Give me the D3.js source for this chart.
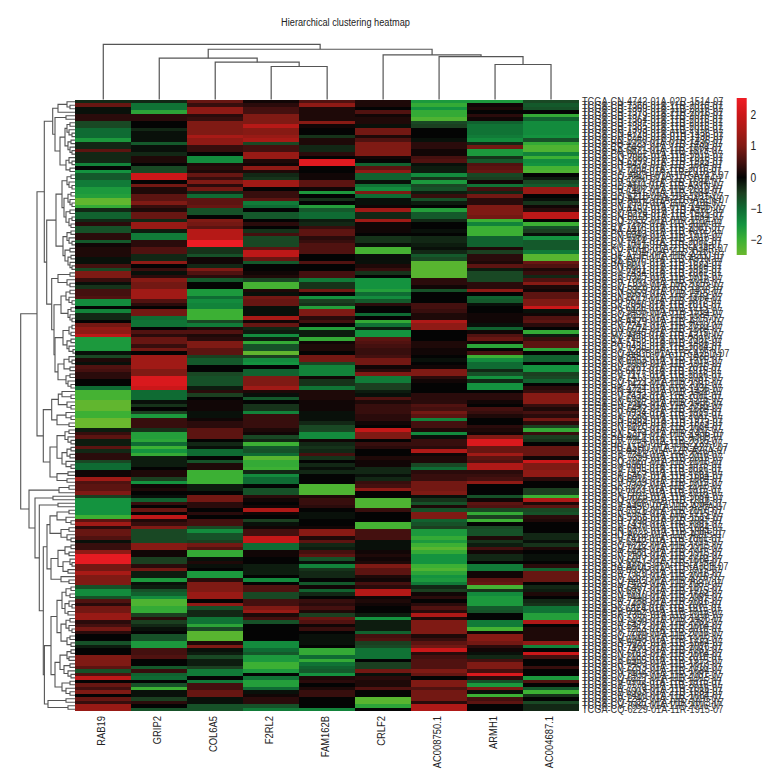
<!DOCTYPE html>
<html>
<head>
<meta charset="utf-8">
<script src="https://cdn.jsdelivr.net/npm/d3@7"></script>
<style>
  body { margin: 0; background: #fff; }
  text { font-family: "Liberation Sans", sans-serif; fill: #222; }
</style>
</head>
<body>
<div class="heatmap"></div>
<script>
const genes = ["RAB19", "GRIP2", "COL6A5", "F2RL2", "FAM162B", "CRLF2", "AC008750.1", "ARMH1", "AC004687.1"];

const rab19 = [-.3,.8,-.1,-.1,.3,.3,-.6,-.6,-1,-1,
  -1,-1.6,-.3,-.3,.7,-.3,-.3,-.3,-1.3,0,
  -1.5,-.8,-.8,-1.2,-1.2,-1.6,-1.6,-1.7,-2.4,-2.4,
  -1.9,-.3,-.9,-.9,-.3,.3,-.7,-.7,.3,.3,
  -.8,.1,.2,.2,.2,-.1,-.1,.5,-.6,1,
  1,.4,-.1,-.4,.5,.5,.6,-1.4,-1.4,0,
  -1.3,-.3,-.3,0,.9,1.2,1.2,1.8,-1.6,-1.6,
  -1.6,-1.6,-.1,-.6,.2,-.1,.6,.5,.3,.3,
  0,0,-1,-2.1,-2.1,-2.1,-2.4,-2.4,-2.4,-2,
  -2,-2.5,-2.5,-2.5,-.2,.4,.7,-.2,-.2,.7,
  -.3,.3,.3,-.6,-1,-1,.1,.1,1.4,.6,
  .7,.7,1,-.5,-1.5,-1.5,-1.5,-1.5,-1.5,-2,
  .7,1.4,.3,.8,.8,.6,-.1,.4,.4,1.2,
  2.4,2.4,2.4,.9,.9,1.5,1,1,1,-.7,
  -1.4,-1.4,-.7,.6,.3,.9,.9,1.3,1.3,.3,
  .5,.9,.3,0,0,-.7,-.2,0,0,1,
  1,1,.7,-.7,.6,1.8,0,.8,.5,1,
  0,.8,.4,1.3,1.3];
const grip2 = [-.3,-1.1,-1.1,-1.8,.3,.3,0,0,-.3,-.1,
  -.1,-.1,-.8,-.1,-.1,-.3,.2,.2,0,-.6,
  -.6,2,2,0,.9,.2,.2,.7,.7,1,
  .4,.2,.8,.8,-.3,1.3,1.3,-.2,-1.2,-1.2,
  .3,.3,.6,.6,-.3,-.3,1.2,0,.4,-.1,
  .3,1.1,.9,.9,1.4,1.4,1.4,.6,.3,0,
  .9,.9,-1,-1.1,-1.1,0,.6,.3,.8,.8,
  .4,.9,0,1.4,1.4,1.4,1.4,1,1,2.2,
  2.2,2.2,2,-1,-1,-1,-.1,-.4,0,-.5,
  -1.6,.4,.4,.4,-.4,-1.7,-1.7,-1.8,-1,-2,
  -1.5,-1.9,-.2,-.2,-.2,0,.2,.2,-.5,-1.5,
  .1,.2,0,-.1,-.9,.4,0,.8,0,1.8,
  .2,.4,1,-.6,-.6,-.6,-.6,1.1,1.1,.1,
  .1,-.5,-.5,.3,.9,-.2,-.2,-1.6,-.1,-.2,
  -.7,-.9,-1.4,-2.2,-2.2,-1.9,-1.9,-.5,.3,-.5,
  -.3,-.1,0,-.7,-.7,-1.6,-1.6,.5,.5,.6,
  0,0,-.8,.4,-.9,-1,0,-.7,-2,-.1,
  -.1,-.5,.3,0,-.7];
const col6a5 = [.8,.4,1.2,1.2,.3,.4,1,1,1,1,
  1.5,1.2,1.2,.4,.4,0,-1.4,-1.4,.2,.3,
  .2,.8,.4,1,.3,.9,-.3,-1,.7,.7,
  .8,-.7,-.7,0,1,.9,.7,1.7,1.7,1.7,
  2.5,2.5,-.4,-.4,-.7,.1,.1,-.3,1,.6,
  .3,-.8,0,0,-1.6,-1.6,-1,-1.4,-1.3,-1.3,
  -2,-2,-2,-.6,-1.2,.2,.6,.2,.3,1,
  1,.7,.7,-.5,-.8,-.8,0,0,-.6,-.7,
  -.7,-.7,-.2,.3,-.5,0,.1,.1,.1,-.1,
  -.1,.1,.3,.3,.7,.7,.7,0,-.3,-.1,
  -1,-1,0,-.7,.2,.2,-2,-2,-2,-2,
  -.2,-.2,0,.9,.9,.3,.3,0,.3,0,
  .5,.5,-.6,-1.4,-.7,-.7,-.5,.9,.6,-1.9,
  -1.9,-.1,.2,-.1,0,-1.6,-1.6,.3,1,1,
  1,1.3,1.3,0,1.2,-.7,-.3,-.3,-1.1,-1.1,
  -1.8,-.6,-2.3,-2.3,-2.3,.2,1,-.1,-.2,-.6,
  -.2,-.2,-.5,-1.2,-1.2,0,-1.2,.5,.5,.8,
  .8,-.1,-.1,-.7,-.7];
const f2rl2 = [.1,.3,.5,.5,1,1,1,1.7,1.1,1.1,
  1.3,1.5,-.6,.5,.5,1.3,1.3,.2,.1,1.2,
  .2,-.3,-.4,1.4,1.4,0,.4,.4,.7,-1.2,
  -1,0,-.8,-.8,0,.3,0,-.4,.5,-.6,
  -.6,-.6,.7,1.8,1.8,.8,-.8,0,0,.1,
  .2,-.6,-2.1,-2.1,.2,-.1,.9,.8,.8,-.1,
  -.1,-.1,1.5,.1,.8,-.3,-.2,-1.4,-.2,-1.9,
  -.7,-.7,-2.4,-.5,-1.4,-1.5,0,-.9,-.9,1,
  1,1,1.4,.2,-.1,-.8,0,-.4,-.4,-1.3,
  .4,.4,.4,.4,.2,.1,-.6,-.3,-2,-.8,
  -.7,-1,-2.3,-1.9,-1.9,-2,-.3,-1.4,-1,-1,
  0,-.7,-.7,.3,.1,0,.1,1.6,.1,0,
  -.5,-.1,.1,.5,.5,1.9,1.9,-1,-1,.1,
  .1,0,0,-.2,-.2,-.2,0,-1.4,0,.6,
  .6,-.6,-.6,.5,.5,1,1.3,.2,.5,-.7,
  0,0,0,0,0,-1.4,-1.4,-1,-.8,-1.6,
  -1.6,-2,-2,-1.6,0,-1.1,-1.7,-1.7,-1,-.1,
  .1,.3,.3,-.7,-1.2];
const fam162b = [.6,1.2,.2,.2,.2,.2,1.1,.1,0,0,
  -.4,.2,.2,-.3,-.3,.3,0,2.3,2.3,0,
  0,.1,.1,.7,.7,.1,-1.6,0,-.4,0,
  -1.7,-.8,-1,-1,-.2,-.3,.4,.7,.7,.3,
  .4,.6,.6,.6,0,0,.6,0,0,.5,
  .5,-1.2,-.4,-.4,.9,0,-1.5,-.5,-.4,-1.7,
  1,1,.3,.5,0,-1.7,-.2,-.2,-1.9,.1,
  .2,.2,0,.9,.9,-.6,-1.3,-1.3,-1.3,.1,
  -.4,-.4,-1.1,.2,.2,.2,.1,.1,.1,-.1,
  -.1,-.1,-.3,-.6,-.6,-1.4,-1.4,.1,-.3,-.4,
  -.3,.5,-.4,0,-.3,-.1,-.3,0,0,0,
  -2.2,-2.2,-2.2,.2,.4,.4,.3,0,-.1,-.1,
  0,0,.1,1.1,1.1,.2,.7,-.3,-.2,.5,
  .7,-.7,-.1,-1.3,-.4,-.3,-.3,0,-.8,.1,
  -.9,-.3,0,.4,.3,.5,.2,-.5,.8,.6,
  .1,.4,0,-.1,-.1,-.1,0,-1.9,-1.9,-1,
  -1.9,-1.1,-.9,-.8,-1.5,.2,.3,0,.2,.4,
  .4,0,0,0,-1.3];
const crlf2 = [.2,.2,0,.6,.1,.2,.2,-.1,.9,.9,
  .2,.6,1,1,1,1,.1,0,-.9,.7,
  1.2,-.9,-.9,-.1,-1.1,-1.4,1,-1,-.1,-.1,
  .1,1.4,-.3,-.3,1.4,.1,.1,.1,0,-.4,
  -.4,-.1,-2.1,-2.1,-.1,-.1,-.1,.2,.4,-.4,
  0,-1.5,-1.5,-1.5,-1.7,-1,-1.4,-.8,.3,0,
  0,-1,0,-1.9,-1.1,-.2,-1.5,-1.5,.7,.6,
  .5,.4,.4,.5,.9,.9,.1,.3,1,-1.2,
  -1.2,-.5,-.5,-.2,-.1,.6,.2,.4,.4,.4,
  .3,.3,.1,0,1.9,1,1,0,.4,.3,
  0,0,.2,.1,.1,-.3,-.3,-.1,-.3,.4,
  .5,1.2,0,0,-2.2,-2.2,-2.2,.4,0,0,
  0,-2.1,-2.1,.5,.5,.5,-.1,-.1,-.1,.1,
  .2,.1,.2,1,.7,.7,.2,.1,.5,.3,
  1.7,1.7,.1,.2,.1,0,0,-.2,-1.5,-.2,
  -.2,-.2,-.9,.5,.6,-.5,-.6,-1.1,-1.1,-1.1,
  0,-.5,-.5,.9,-.1,.3,.2,.2,.6,0,
  0,-2.3,-2.3,-1.8,0];
const ac008750 = [-1.6,-1.9,-1.5,-1.9,-1.9,-2.2,-.6,-.5,0,0,
  0,-.1,.3,.3,.1,.1,.5,.6,-.1,-.2,
  -.2,-1.4,-.4,-1.6,-.6,-.7,-.2,.4,-.7,-.2,
  0,-1.7,-.8,-.8,-.3,0,0,-.1,0,-.3,
  -.3,-.2,-.1,-.3,-.8,-.6,-2.3,-2.3,-2.3,-2.3,
  -2.3,.3,.3,.1,-.7,0,0,0,.5,.5,
  .4,.2,.2,1.6,1.2,1.2,0,0,0,.2,
  .2,.1,.1,0,-.1,0,.1,1,1,.3,
  .1,0,0,0,.3,.3,.3,.6,.5,.9,
  .7,-1.3,.5,.5,.2,-1.4,-.1,.4,.4,.3,
  1.6,.1,.2,.2,-.6,-1,.3,.4,.4,.9,
  .9,.9,1,-.1,-.4,-.7,.2,-.7,1,1,
  -.9,-.7,-.5,-1.6,-1.6,-1.9,-1.6,-2,-2.3,-1.9,
  -1.5,-1.5,-1.5,-2,-2.2,-1.8,-1.5,-1.6,-1.2,-.3,
  -.5,.1,.3,0,.3,.6,.3,1.6,.2,1,
  1,1,1,.2,.4,.7,.9,2,.3,.5,
  .6,.6,.6,1,.8,0,1,1,.6,.9,
  .9,.9,.3,1.6,1.6];
const armh1 = [-1.6,.1,.2,0,.3,.1,-.9,-1.1,-1.1,-1.1,
  -1.2,-1.4,-.3,.9,-1.6,-1.6,-.4,-.8,.6,.7,
  .8,-.6,-.5,.1,-1.1,.5,-.3,.9,.3,.3,
  1,1,1,.9,-2,-1.3,-2,-2,-2,-.9,
  -.9,-.9,.2,-.5,.3,.3,.2,.7,-.2,-.6,
  -.6,-.6,.3,.3,1.2,0,-.9,-.8,-.1,0,
  0,.1,.1,.1,-.1,-.9,.1,.6,.8,.1,
  -1.8,0,.5,-2,-1.4,-1,-1,-.3,-.7,-1.5,
  -.3,-1.5,-1.5,0,.3,.3,.1,0,.5,.4,
  .2,0,0,.3,.2,.1,1,2.2,2.2,.8,
  .8,1.4,.7,.6,1.6,1.6,.3,.4,.5,1.2,
  0,0,0,-.7,.1,.7,.6,-.6,-1.9,-.5,
  -2,0,-.6,-.7,-.7,.2,-.4,-.2,.5,.1,
  -.3,-.3,0,-1.2,-1.2,.1,.1,.7,.8,-2.1,
  -.4,-1.4,-1.6,-1.6,-1.6,-.8,-.7,0,0,-1.2,
  -1.2,-2.1,.1,1.1,1.1,.9,.3,.1,-.1,-.3,
  .5,1,1,.5,2.2,.3,-.7,-1.6,1,-.1,
  -2,.5,.7,0,0];
const ac004687 = [-.6,-.8,-.7,0,-1.9,-.9,-1.4,-1.4,-1.4,-1.4,
  -1.5,-.7,-1.9,-2.2,-2.2,-1.3,-2,-1.4,-1.5,-2.1,
  -2.2,0,-.2,-.6,-.8,1.3,1.3,0,-.1,-.4,
  .1,.3,1.8,1.8,0,-2,-.7,-.5,-.1,-1.5,
  -.8,-.8,-.8,-1.2,-2.3,-2.3,.8,.6,.2,.4,
  -.3,.6,1.1,.2,.1,.7,.7,1,1,2,
  -.1,.1,.6,.7,.3,0,-1.9,-.2,.4,.7,
  .7,-1.8,0,-.9,-.9,0,-1.5,-1.5,-.5,-.6,
  -.9,0,.3,.4,1.1,1.1,1.1,.4,.2,.5,
  .3,.9,.3,-.5,-1.9,.4,-.5,-.4,0,.8,
  .8,.8,.1,2,1,1,1.2,1.2,.3,0,
  0,-.5,-.5,-2,1.6,.2,.7,-.6,-.7,.3,
  .2,0,0,0,-.3,-.3,-.1,-.4,.2,0,
  -.1,-.1,0,.3,-.9,.8,.8,.8,0,-.3,
  -.2,.2,0,-.3,-.4,-1.1,-1.1,-1.7,-1.7,1.6,
  0,.2,.2,.2,.2,1.2,-1.3,0,2,.5,
  0,0,.4,0,0,-1.6,.6,0,-.8,-2,
  -.4,0,-.6,-.3,-.3];
const geneValues = [rab19, grip2, col6a5, f2rl2, fam162b, crlf2, ac008750, armh1, ac004687];

const sampleIds = ["CN-4742-01A-02R-1514","CR-7368-01A-11R-2016","CR-7369-01A-11R-2016","CR-7373-01A-21R-2016","CR-7379-01A-11R-2016","CR-7364-01A-11R-2016","CR-7391-01A-11R-2016","CR-7385-01A-11R-2016","CR-7393-01A-11R-2016","CN-4729-01A-01R-1436",
  "CR-5249-01A-01R-1436","CN-5360-01A-01R-1436","BB-4223-01A-01R-1436","CR-6491-01A-11R-1684","BA-6871-01A-11R-1873","CN-6997-01A-11R-1915","CQ-7065-01A-11R-2016","CN-6992-01A-11R-1915","CR-6473-01A-11R-1684","CV-7099-01A-11R-2016",
  "CV-7406-01A-11R-2016","CQ-A4CH-01A-11R-A24Z","CR-7380-01A-11R-2016","CV-5971-01A-11R-1684","HD-A6I0-01A-11R-A31N","CR-7402-01A-11R-2016","CV-6441-01A-11R-1684","CQ-6218-01A-11R-1915","HD-A6HZ-01A-21R-A31N","CV-7097-01A-11R-2016",
  "CN-4730-01A-01R-1436","CV-A45Z-01A-11R-A25D","CQ-6224-01A-11R-1915","CN-6018-01A-11R-1684","CQ-5332-01A-01R-1514","CV-7255-01A-11R-2016","CV-7416-01A-11R-2081","BA-A4IG-01A-11R-A25D","CV-6943-01A-11R-1915","CN-6988-01A-11R-1915",
  "CV-7414-01A-11R-2081","CV-7091-01A-11R-2016","KU-A6H8-01A-21R-A34R","CV-7104-01A-11R-2016","UF-A7JH-01A-11R-A33J","QK-A6IF-01A-11R-A31N","BA-6870-01A-11R-1873","CN-6011-01A-11R-1684","CV-6961-01A-11R-1915","CV-7434-01A-11R-2081",
  "CV-6935-01A-11R-1915","CR-7367-01A-11R-2016","CV-7103-01A-11R-2016","CQ-5326-01A-01R-1873","CN-5359-01A-01R-1436","CV-6959-01A-11R-1915","CN-6019-01A-11R-1684","D6-6517-01A-11R-1873","CV-7090-01A-11R-2016","D6-6826-01A-11R-1915",
  "CV-5435-01A-01R-1514","CQ-6220-01A-11R-1684","CV-6956-01A-11R-1915","D6-A4Z9-01A-11R-A27V","CV-7247-01A-11R-2016","CN-6024-01A-11R-1684","CV-6945-01A-11R-1915","MZ-A6I9-01A-11R-A31N","CV-7438-01A-11R-2081","BA-5152-01A-01R-1436",
  "CV-6433-01A-11R-1684","CV-7236-01A-11R-2016","CQ-A4CB-01A-11R-A25D","CV-5431-01A-01R-1436","CV-6953-01A-11R-1915","CN-6998-01A-11R-1915","CV-7261-01A-11R-2016","D6-6827-01A-11R-1915","CV-7177-01A-11R-2016","CV-7413-01A-11R-2081",
  "CQ-6221-01A-11R-1915","CV-7424-01A-11R-2081","BB-4224-01A-01R-1436","CN-4741-01A-01R-1436","CV-7432-01A-11R-2081","CV-6938-01A-11R-1915","CN-5367-01A-01R-1436","CV-7245-01A-11R-2016","CR-6482-01A-11R-1684","CV-6934-01A-11R-1915",
  "CV-7238-01A-11R-2081","CN-6989-01A-11R-1915","CR-6484-01A-11R-1873","CN-6020-01A-11R-1684","CV-7415-01A-11R-2081","CN-5374-01A-01R-1436","BA-A6DI-01A-11R-A30B","CV-7254-01A-11R-2016","HD-7753-01A-11R-2232","BB-A5HU-01A-12R-A27V",
  "CV-A45U-01A-12R-A26A","CV-7243-01A-11R-2016","CR-7399-01A-11R-2016","CQ-7067-01A-11R-2016","CV-6960-01A-11R-1915","CV-7095-01A-11R-2016","CV-7425-01A-11R-2081","CR-6467-01A-11R-1684","CN-6016-01A-11R-1684","CV-6939-01A-11R-1915",
  "CR-7392-01A-11R-2016","D6-6823-01A-11R-1915","CV-7101-01A-11R-2016","CN-6023-01A-11R-1684","CQ-7068-01A-11R-2016","CV-5966-01A-01R-1684","CV-A45O-01A-11R-A26A","CR-7376-01A-11R-2016","CV-6954-01A-11R-1915","CN-5356-01A-01R-1514",
  "CR-7398-01A-11R-2081","CV-7439-01A-11R-2081","CR-6470-01A-11R-1684","CN-6021-01A-11R-1684","HD-A633-01A-11R-A29S","CV-7418-01A-11R-2081","CV-6942-01A-11R-1915","CQ-6222-01A-11R-1915","CV-7248-01A-11R-2016","CR-6481-01A-11R-1915",
  "CV-7100-01A-11R-2016","CN-6017-01A-11R-1684","CV-6951-01A-11R-1915","BA-A6DG-01A-11R-A30B","CV-6936-01A-11R-1915","CR-7370-01A-11R-2016","CV-7252-01A-11R-2016","CQ-A4CI-01A-11R-A27V","CV-7423-01A-11R-2081","CR-6487-01A-11R-1873",
  "CV-6937-01A-11R-1915","CN-6010-01A-11R-1684","CV-7440-01A-11R-2081","CR-7388-01A-11R-2016","CV-7428-01A-11R-2081","D6-6824-01A-11R-1915","CV-6952-01A-11R-1915","CR-7397-01A-11R-2016","CN-5358-01A-01R-1436","CV-7430-01A-11R-2081",
  "CR-6472-01A-11R-1684","CV-7263-01A-11R-2016","CV-7250-01A-11R-2016","CQ-7069-01A-11R-2016","CV-6948-01A-11R-1915","CN-6022-01A-11R-1684","CR-7401-01A-11R-2016","CV-7429-01A-11R-2081","CN-6013-01A-11R-1684","CV-7183-01A-11R-2016",
  "CV-6955-01A-11R-1915","CR-6493-01A-11R-1873","CV-7253-01A-11R-2016","CN-6012-01A-11R-1684","CV-7409-01A-11R-2081","CQ-6227-01A-11R-1915","CV-6962-01A-11R-1915","CV-7178-01A-11R-2016","CR-7374-01A-11R-2016","CV-6003-01A-21R-1684",
  "CR-6480-01A-11R-1684","CV-7242-01A-11R-2016","CQ-5327-01A-01R-1873","CV-7089-01A-11R-2016","CQ-6229-01A-11R-1915"];

const legendTicks = [2, 1, 0, -1, -2];
const colorStops = [-2.5, -2, -1.5, -1, -.5, 0, .5, 1, 1.5, 2, 2.5];
const colorRange = ["#6ab82e", "#3cb034", "#14933f", "#0f6b33", "#1b3f20", "#040404", "#44100f", "#7f1a14", "#a81a16", "#cb1719", "#ed1c24"];

// each node is [height, left, right], 0 is a leaf
const colTree = [55.7, 0, [50.7, [41.7, 0, [37.7, 0, [33.3, 0, 0]]], [45, 0, [43.3, 0, [35.3, 0, 0]]]]];
const rowTree = [54.3,
  [38,
    [30.7,
      [22.3,
        [17, [8, 0, [5, 0, 0]], 0],
        [20, [9, 0, 0],
          [15,
            [10, [8, [5, 0, 0], [6, 0, [3, 0, 0]]], [7, [4, 0, 0], [5, 0, [3, 0, 0]]]],
            [9, [6, 0, [3, 0, 0]], [5, 0, 0]]]]],
      [28.3,
        [19,
          [13, [8, [4, 0, 0], [6, 0, [3, 0, 0]]],
            [11, [7, [4, 0, 0], [5, 0, [3, 0, 0]]], [9, [5, 0, 0], [6, [3, 0, 0], [4, 0, 0]]]]],
          [12, [8, [4, 0, 0], [6, 0, [3, 0, 0]]], [10, [5, 0, 0], [7, [4, 0, 0], [5, 0, [3, 0, 0]]]]]],
        [23.3,
          [17, [5, 0, 0], [8, 0, [5, 0, 0]]],
          [21,
            [14, [9, [5, 0, 0], [6, 0, [3, 0, 0]]], [7, [4, 0, 0], [5, 0, [3, 0, 0]]]],
            [20,
              [12, [6, [3, 0, 0], [4, 0, 0]], [8, [4, 0, 0], [6, 0, [2, 0, 0]]]],
              [17, [11, [6, 0, [3, 0, 0]], [5, 0, 0]], [9, [5, 0, 0], [7, 0, [4, 0, 0]]]]]]]]],
    [31.7,
      [23.3,
        [16.7, [13, 0, [4, 0, 0]], [8, 0, [4, 0, 0]]],
        [18, [9, 0, [4, 0, 0]], [6, 0, 0]]],
      [25,
        [18, [10, [6, 0, 0], [7, 0, [4, 0, 0]]], [13, [8, [4, 0, 0], [5, 0, 0]], [9, 0, [4, 0, 0]]]],
        [18, [7, 0, 0], [8, 0, 0]]]]],
  [46,
    [16, [6, 0, 0], 0],
    [40,
      [22, 0, 0],
      [35.7,
        [17, 0, 0],
        [31.7,
          [28,
            [25, [18, [6, 0, 0], [9, 0, [4, 0, 0]]], [14, [6, 0, 0], [8, 0, [4, 0, 0]]]],
            [24, [17, [10, [4, 0, 0], [6, 0, 0]], [12, [5, 0, [3, 0, 0]], [7, 0, 0]]], [14, 0, [6, 0, 0]]]],
          [30.6,
            [24,
              [18,
                [13, [9, [4, 0, 0], [5, 0, 0]], [10, [6, 0, [3, 0, 0]], [7, 0, 0]]],
                [14, [9, [5, 0, 0], [6, 0, [3, 0, 0]]], [8, [5, 0, 0], [4, 0, 0]]]],
              [20,
                [15, [8, [4, 0, 0], [6, 0, 0]], [11, [5, 0, 0], [7, 0, [4, 0, 0]]]],
                [13, [5, 0, 0], [9, 0, [5, 0, 0]]]]],
            [27, [9, 0, 0], [7, 0, 0]]]]]]]];

const rowLabels = sampleIds.map(d => `TCGA-${d}-07`);
const rows = d3.range(rowLabels.length);

const renderHeatmap = () => {
  const svg = d3.select(".heatmap")
    .append("svg")
    .attr("width", 780)
    .attr("height", 780)
    .style("display", "block");

  const x = d3.scaleBand().domain(genes).range([75.3, 579]);
  const y = d3.scaleBand().domain(rows).range([100, 711]);
  const color = d3.scaleLinear().domain(colorStops).range(colorRange).clamp(true);

  // no condensed face is installed, so the text is squeezed sideways
  svg.append("text")
    .attr("transform", "translate(345.5,26) scale(.8,1)")
    .attr("text-anchor", "middle")
    .attr("font-size", 11.5)
    .text("Hierarchical clustering heatmap");

  // cells, one column per gene
  genes.forEach((g, i) => {
    if (geneValues[i].length !== rows.length) throw new Error(g + " has " + geneValues[i].length + " values");
    svg.append("g").selectAll("rect")
      .data(geneValues[i])
      .enter().append("rect")
      .attr("x", x(g))
      .attr("y", (d, r) => y(r))
      .attr("width", x.bandwidth())
      .attr("height", y.bandwidth())
      .attr("shape-rendering", "crispEdges")
      .attr("fill", d => color(d));
  });

  // column labels
  svg.append("g").selectAll("text")
    .data(genes)
    .enter().append("text")
    .attr("transform", d => `translate(${x(d) + x.bandwidth() / 2 + 2},716) rotate(-90) scale(.82,1)`)
    .attr("text-anchor", "end")
    .attr("font-size", 11.5)
    .text(d => d);

  // row labels
  svg.append("g").selectAll("text")
    .data(rowLabels)
    .enter().append("text")
    .attr("transform", (d, r) => `translate(582,${y(r) + y.bandwidth() / 2 + 3.5}) scale(.92,1)`)
    .attr("font-size", 10)
    .style("fill", "#333")
    .text(d => d);

  // walks a tree, gives back the leaf position and pushes the bracket segments
  const walk = (node, leaves, segs) => {
    if (node === 0) return { p: leaves.shift(), h: 0 };
    const a = walk(node[1], leaves, segs);
    const b = walk(node[2], leaves, segs);
    segs.push([a, b, node[0]]);
    return { p: (a.p + b.p) / 2, h: node[0] };
  };

  const colSegs = [];
  const colLeaves = genes.map(g => x(g) + x.bandwidth() / 2);
  walk(colTree, colLeaves, colSegs);
  const colH = d3.scaleLinear().domain([0, 55.7]).range([99.5, 44.3]);
  svg.append("g").selectAll("path")
    .data(colSegs)
    .enter().append("path")
    .attr("d", d => `M${d[0].p},${colH(d[0].h)}V${colH(d[2])}H${d[1].p}V${colH(d[1].h)}`)
    .attr("fill", "none")
    .attr("stroke", "#555")
    .attr("stroke-width", 1.2);

  const rowSegs = [];
  const rowLeaves = rows.map(r => y(r) + y.bandwidth() / 2);
  walk(rowTree, rowLeaves, rowSegs);
  if (rowLeaves.length !== 0) throw new Error("row tree left " + rowLeaves.length + " leaves");
  const rowH = d3.scaleLinear().domain([0, 54.3]).range([75, 20.7]);
  svg.append("g").selectAll("path")
    .data(rowSegs)
    .enter().append("path")
    .attr("d", d => `M${rowH(d[0].h)},${d[0].p}H${rowH(d[2])}V${d[1].p}H${rowH(d[1].h)}`)
    .attr("fill", "none")
    .attr("stroke", "#555")
    .attr("stroke-width", 1.1);

  // colour key
  const keyY = d3.scaleLinear().domain([2.54, -2.48]).range([98, 255]);
  const grad = svg.append("defs").append("linearGradient")
    .attr("id", "key")
    .attr("x1", 0).attr("x2", 0).attr("y1", 0).attr("y2", 1);
  grad.selectAll("stop")
    .data(colorStops.slice().reverse())
    .enter().append("stop")
    .attr("offset", d => (keyY(d) - 98) / 157)
    .attr("stop-color", d => color(d));
  svg.append("rect")
    .attr("x", 736.7)
    .attr("y", 98)
    .attr("width", 10)
    .attr("height", 157)
    .attr("fill", "url(#key)");
  svg.append("g").selectAll("text")
    .data(legendTicks)
    .enter().append("text")
    .attr("transform", d => `translate(750.5,${keyY(d) + 4.3}) scale(.85,1)`)
    .attr("font-size", 12)
    .text(d => d < 0 ? "\u2212" + (-d) : d);
};

renderHeatmap();
</script>
</body>
</html>
